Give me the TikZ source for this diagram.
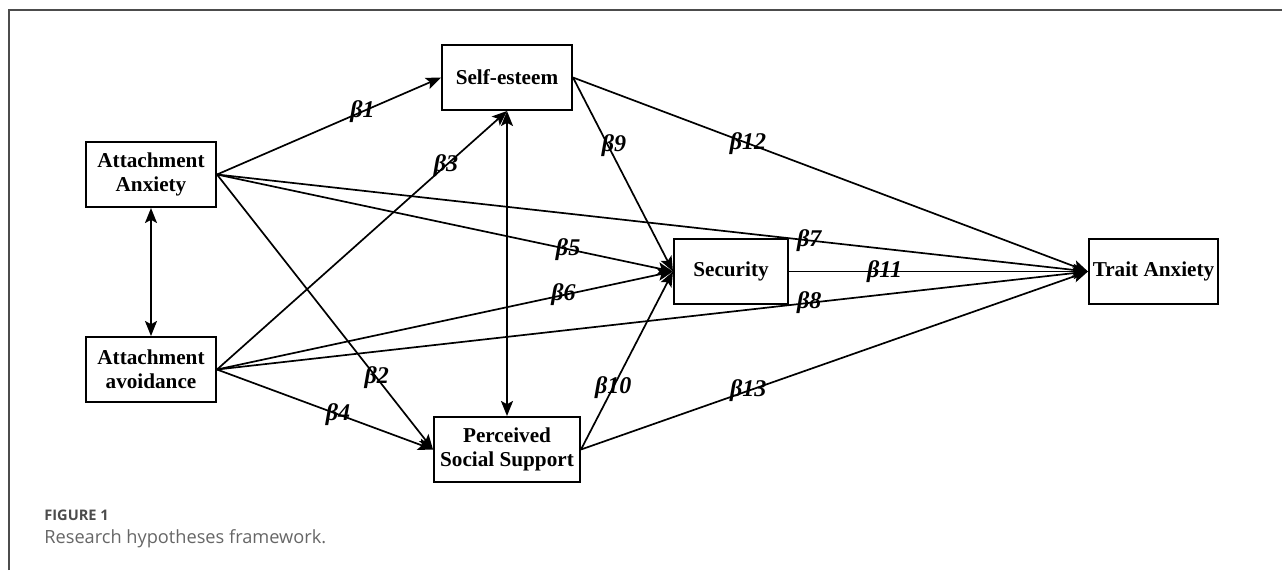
\documentclass[tikz,border=0pt]{standalone}
\usepackage{fontspec}
\setmainfont{Liberation Serif}
\newfontfamily\capfont{Open Sans}
\usetikzlibrary{arrows.meta}
\begin{document}
\begin{tikzpicture}[x=0.5pt,y=-0.5pt,
  box/.style={draw, line width=1pt, font=\fontsize{10.6}{12}\selectfont\bfseries, align=center, inner sep=0pt, minimum height=32.5pt},
  tip/.tip={Stealth[length=7.5pt,width=6pt,inset=1.6pt]},
  link/.style={line width=0.85pt, -tip},
  twoway/.style={line width=0.85pt, tip-tip},
  beta/.style={font=\fontsize{12}{13}\selectfont\bfseries\itshape, inner sep=0.5pt},
  frame/.style={draw=black!70, line width=0.6pt}]
\useasboundingbox (0,0) rectangle (1282,570);
\draw[frame] (9,570) -- (9,10) -- (1282,10);

\node[box, minimum width=65pt] (AA) at (151,174.5) {Attachment\\Anxiety};
\node[box, minimum width=65pt] (AV) at (151,369.5) {Attachment\\avoidance};
\node[box, minimum width=65pt] (SE) at (507,77.5) {Self-esteem};
\node[box, minimum width=73pt] (PS) at (507,449.5) {Perceived\\Social Support};
\node[box, minimum width=57pt] (SC) at (731,271.5) {Security};
\node[box, minimum width=64.5pt] (TA) at (1153.5,271.5) {Trait Anxiety};

\draw[twoway] (AA.south) -- (AV.north);
\draw[twoway] (SE.south) -- (PS.north);

\draw[link] (AA.east) -- node[beta, pos=0.65]{β1} (SE.west);
\draw[link] (AA.east) -- node[beta, pos=0.74]{β2} (PS.west);
\draw[link] (AV.east) -- node[beta, pos=0.79]{β3} (SE.south);
\draw[link] (AV.east) -- node[beta, pos=0.56]{β4} (PS.west);
\draw[link] (AA.east) -- node[beta, pos=0.77]{β5} (SC.west);
\draw[link] (AV.east) -- node[beta, pos=0.76]{β6} (SC.west);
\draw[link] (AA.east) -- node[beta, pos=0.68]{β7} (TA.west);
\draw[link] (AV.east) -- node[beta, pos=0.68]{β8} (TA.west);
\draw[link] (SE.east) -- node[beta, pos=0.35, xshift=3pt]{β9} (SC.west);
\draw[link] (PS.east) -- node[beta, pos=0.35]{β10} (SC.west);
\draw[link] (SC.east) -- node[beta, pos=0.32]{β11} (TA.west);
\draw[link] (SE.east) -- node[beta, pos=0.34]{β12} (TA.west);
\draw[link] (PS.east) -- node[beta, pos=0.33]{β13} (TA.west);

\node[anchor=base west, inner sep=0pt, text=black!70, font=\capfont\bfseries\fontsize{7.3}{8}\selectfont] (fig) at (44,520) {FIGURE 1};
\node[anchor=base west, inner sep=0pt, text=black!60, font=\capfont\fontsize{9.1}{10}\selectfont] (cap) at (44,543) {Research hypotheses framework.};
\end{tikzpicture}
\end{document}
